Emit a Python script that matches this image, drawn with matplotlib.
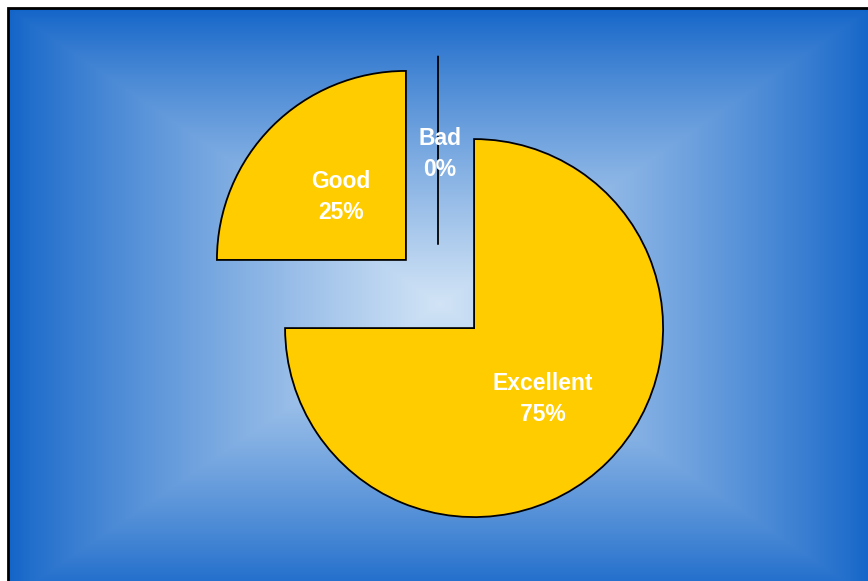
import numpy as np
import matplotlib.pyplot as plt

# datos del grafico
categorias = ['Excellent', 'Good', 'Bad']
valores = [75, 25, 0]
separacion = [0.27, 0.24, 0.25]  # fraccion del radio
color_porcion = '#FFCC00'

total = sum(valores)
etiquetas = [f'{c}\n{v / total * 100:.0f}%' for c, v in zip(categorias, valores)]

W, H = 868, 581
fig = plt.figure(figsize=(W / 100, H / 100), dpi=100)
ax = fig.add_axes([0, 0, 1, 1])

# fondo con degradado rectangular (azul oscuro en bordes, claro en el centro)
x0, x1 = 8, 872
y0, y1 = H - 600, H - 8
nx, ny = 400, 300
u = np.linspace(-1, 1, nx)
v = np.linspace(-1, 1, ny)
U, V = np.meshgrid(u, v)
t = np.maximum(np.abs(U), np.abs(V))
borde = np.array([18, 100, 200]) / 255
centro = np.array([210, 228, 246]) / 255
s = (1 - t) ** 0.85
img = borde + (centro - borde) * s[..., None]
ax.imshow(img, extent=(x0, x1, y0, y1), origin='lower', aspect='auto', zorder=0)

# borde negro superior e izquierdo
ax.plot([8, 8, 880], [-20, H - 8, H - 8], color='black', lw=2, zorder=1,
        solid_joinstyle='miter')

# pastel (en pixeles; explode de matplotlib va en unidades de datos)
cx, cy = 438, H - 292
radio = 189
wedges, textos = ax.pie(
    valores, labels=etiquetas, colors=[color_porcion] * 3,
    explode=[e * radio for e in separacion], startangle=90, counterclock=False,
    radius=radio, center=(cx, cy), labeldistance=0.5,
    wedgeprops=dict(edgecolor='black', linewidth=1.3),
    textprops=dict(color='white', fontsize=16.5, fontweight='bold',
                   family='Liberation Sans', ha='center', va='center',
                   linespacing=1.45))

# bajar un poco las etiquetas
for txt in textos:
    px, py = txt.get_position()
    txt.set_position((px + 2, py - 4))

ax.set_xlim(0, W)
ax.set_ylim(0, H)
ax.set_aspect('equal')
ax.axis('off')

plt.savefig('out.png', dpi=100, facecolor='white')
